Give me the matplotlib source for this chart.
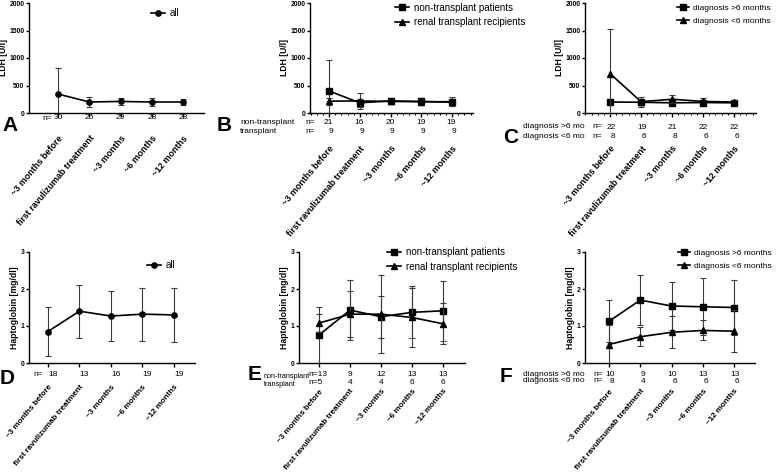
import matplotlib

matplotlib.use("Agg")
import matplotlib.pyplot as plt
from matplotlib.ticker import MultipleLocator
from matplotlib.transforms import blended_transform_factory

plt.rcParams["font.family"] = ["Liberation Sans", "DejaVu Sans"]

W, H = 778, 474

categories = [
    "~3 months before",
    "first ravulizumab treatment",
    "~3 months",
    "~6 months",
    "~12 months",
]

# LDH [U/l]
ldh_all_mean = [345, 200, 210, 200, 200]
ldh_all_sd = [465, 85, 70, 70, 55]
ldh_all_n = [30, 25, 29, 28, 28]

ldh_nontx_mean = [400, 185, 220, 210, 195]
ldh_nontx_sd = [555, 75, 55, 65, 55]
ldh_tx_mean = [215, 220, 210, 205, 205]
ldh_tx_sd = [65, 150, 50, 55, 80]
ldh_nontx_n = [21, 16, 20, 19, 19]
ldh_tx_n = [9, 9, 9, 9, 9]

ldh_gt6_mean = [200, 195, 185, 190, 185]
ldh_gt6_sd = [40, 45, 40, 40, 40]
ldh_lt6_mean = [715, 205, 250, 210, 200]
ldh_lt6_sd = [815, 95, 75, 55, 45]
ldh_gt6_n = [22, 19, 21, 22, 22]
ldh_lt6_n = [8, 6, 8, 6, 6]

# Haptoglobin [mg/dl]
hapto_all_mean = [0.85, 1.40, 1.27, 1.32, 1.30]
hapto_all_sd = [0.66, 0.72, 0.67, 0.72, 0.74]
hapto_all_n = [18, 13, 16, 19, 19]

hapto_nontx_mean = [0.76, 1.43, 1.25, 1.37, 1.41]
hapto_nontx_sd = [0.76, 0.80, 0.57, 0.70, 0.81]
hapto_tx_mean = [1.08, 1.32, 1.32, 1.23, 1.06]
hapto_tx_sd = [0.25, 0.63, 1.05, 0.80, 0.55]
hapto_nontx_n = [13, 9, 12, 13, 13]
hapto_tx_n = [5, 4, 4, 6, 6]

hapto_gt6_mean = [1.13, 1.70, 1.54, 1.52, 1.50]
hapto_gt6_sd = [0.56, 0.68, 0.65, 0.77, 0.73]
hapto_lt6_mean = [0.50, 0.71, 0.83, 0.88, 0.86]
hapto_lt6_sd = [0.52, 0.25, 0.43, 0.27, 0.57]
hapto_gt6_n = [10, 9, 10, 13, 13]
hapto_lt6_n = [8, 4, 6, 6, 6]


def fx(px):
    return px / W


def fy(py):
    return 1 - py / H


def make_axes(fig, x0, x1, y_top, y_bot, xlim, ymax, ystep, ylabel, pad,
              minor=False, tick_size=6.4):
    ax = fig.add_axes([fx(x0), fy(y_bot), (x1 - x0) / W, (y_bot - y_top) / H])
    ax.set_xlim(*xlim)
    ax.set_ylim(0, ymax)
    ax.yaxis.set_major_locator(MultipleLocator(ystep))
    for s in ["top", "right"]:
        ax.spines[s].set_visible(False)
    for s in ["left", "bottom"]:
        ax.spines[s].set_linewidth(1.0)
    ax.set_xticks(range(len(categories)))
    ax.set_xticklabels(
        categories, rotation=50, ha="right", va="top", rotation_mode="anchor",
        fontsize=tick_size, fontweight="bold",
    )
    ax.tick_params(axis="x", length=3, width=1, pad=pad)
    ax.tick_params(axis="y", length=2.5, width=1, pad=0.8, labelsize=4.9)
    for lab in ax.get_yticklabels():
        lab.set_fontweight("bold")
    if minor:
        ax.xaxis.set_minor_locator(MultipleLocator(0.2))
        ax.tick_params(axis="x", which="minor", length=1.5, width=0.7)
    ax.set_ylabel(ylabel, fontsize=6.2, fontweight="bold", labelpad=0.8)
    return ax


def draw_series(ax, mean, sd, marker, label, ms=3.8):
    x = range(len(mean))
    ax.errorbar(
        x, mean, yerr=sd, fmt="none", ecolor="#3a3a3a", elinewidth=0.8,
        capsize=2, capthick=0.8,
    )
    ax.plot(x, mean, color="black", lw=1.2, marker=marker, ms=ms, label=label)


def n_row(ax, values, y, ha="center", dx=0.0, first=None):
    tr = blended_transform_factory(ax.transData, ax.transAxes)
    for i, v in enumerate(values):
        if i == 0 and first is not None:
            ax.text(first, y, "n=" + str(v), transform=tr, fontsize=6, ha="left", va="center")
        else:
            ax.text(i + dx, y, str(v), transform=tr, fontsize=6, ha=ha, va="center")


def legend(ax, x, y, size=7):
    ax.legend(
        loc="center left", bbox_to_anchor=(fx(x), fy(y)), bbox_transform=plt.gcf().transFigure,
        frameon=False, fontsize=size, handlelength=1.4, handletextpad=0.55,
        labelspacing=0.45 * 7 / size, borderpad=0, borderaxespad=0,
    )


def letter(fig, ch, x, y):
    fig.text(fx(x), fy(y), ch, fontsize=15, fontweight="bold", ha="left", va="baseline")


def label(fig, text, x, y, size=6):
    fig.text(fx(x), fy(y), text, fontsize=size, ha="left", va="center")


fig = plt.figure(figsize=(W / 100, H / 100), dpi=100)

# A
ax = make_axes(fig, 29, 204, 3, 113, (-0.93, 4.67), 2000, 500, "LDH [U/l]", 12)
draw_series(ax, ldh_all_mean, ldh_all_sd, "o", "all")
legend(ax, 151, 13)
n_row(ax, ldh_all_n, -0.045)
label(fig, "n=", 42, 118)
letter(fig, "A", 2, 131)

# B
ax = make_axes(fig, 310, 473, 3, 113, (-0.62, 4.68), 2000, 500, "LDH [U/l]", 19.5, minor=True)
draw_series(ax, ldh_nontx_mean, ldh_nontx_sd, "s", "non-transplant patients")
draw_series(ax, ldh_tx_mean, ldh_tx_sd, "^", "renal transplant recipients")
legend(ax, 395, 15)
n_row(ax, ldh_nontx_n, -0.09, ha="right", dx=0.13)
n_row(ax, ldh_tx_n, -0.17, ha="right", dx=0.13)
label(fig, "non-transplant", 240, 123)
label(fig, "transplant", 240, 132)
label(fig, "n=", 305, 123)
label(fig, "n=", 305, 132)
letter(fig, "B", 217, 131)

# C
ax = make_axes(fig, 585, 756, 3, 113, (-0.81, 4.71), 2000, 500, "LDH [U/l]", 19.5, minor=True)
draw_series(ax, ldh_gt6_mean, ldh_gt6_sd, "s", "diagnosis >6 months")
draw_series(ax, ldh_lt6_mean, ldh_lt6_sd, "^", "diagnosis <6 months")
legend(ax, 677, 14.5, size=6)
n_row(ax, ldh_gt6_n, -0.13, ha="right", dx=0.17)
n_row(ax, ldh_lt6_n, -0.21, ha="right", dx=0.17)
label(fig, "diagnosis >6 mo", 523, 127)
label(fig, "diagnosis <6 mo", 523, 136)
label(fig, "n=", 592, 127)
label(fig, "n=", 592, 136)
letter(fig, "C", 503, 143)

# D
ax = make_axes(fig, 29, 195, 252, 363, (-0.60, 4.67), 3, 1, "Haptoglobin [mg/dl]", 12,
               tick_size=5.8)
draw_series(ax, hapto_all_mean, hapto_all_sd, "o", "all")
legend(ax, 147, 265)
n_row(ax, hapto_all_n, -0.10, dx=0.15)
label(fig, "n=", 33, 374)
letter(fig, "D", 0, 384)

# E
ax = make_axes(fig, 299, 465, 252, 363, (-0.65, 4.71), 3, 1, "Haptoglobin [mg/dl]", 15,
               tick_size=5.8)
draw_series(ax, hapto_nontx_mean, hapto_nontx_sd, "s", "non-transplant patients")
draw_series(ax, hapto_tx_mean, hapto_tx_sd, "^", "renal transplant recipients")
legend(ax, 387, 259.5)
n_row(ax, hapto_nontx_n, -0.108, first=-0.36)
n_row(ax, hapto_tx_n, -0.18, first=-0.36)
label(fig, "non-transplant", 264, 377, size=5.2)
label(fig, "transplant", 264, 385, size=5.2)
letter(fig, "E", 248, 380)

# F
ax = make_axes(fig, 585, 755, 252, 363, (-0.77, 4.67), 3, 1, "Haptoglobin [mg/dl]", 15,
               tick_size=5.8)
draw_series(ax, hapto_gt6_mean, hapto_gt6_sd, "s", "diagnosis >6 months")
draw_series(ax, hapto_lt6_mean, hapto_lt6_sd, "^", "diagnosis <6 months")
legend(ax, 678, 259.5, size=6)
n_row(ax, hapto_gt6_n, -0.10, ha="right", dx=0.17)
n_row(ax, hapto_lt6_n, -0.165, ha="right", dx=0.17)
label(fig, "diagnosis >6 mo", 523, 374)
label(fig, "diagnosis <6 mo", 523, 381)
label(fig, "n=", 593, 374)
label(fig, "n=", 593, 381)
letter(fig, "F", 500, 382)

fig.savefig("out.png", dpi=100)
